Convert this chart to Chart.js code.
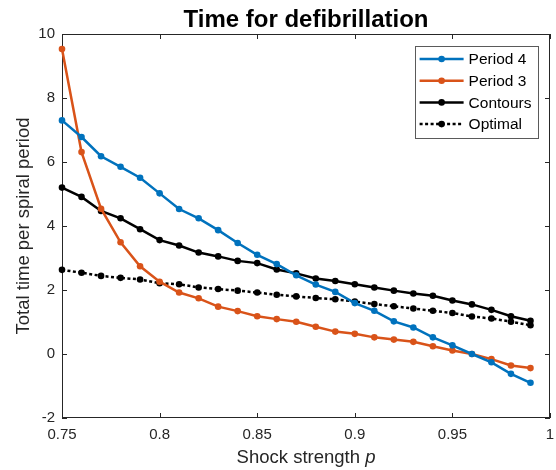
<!DOCTYPE html>
<html>
<head>
<meta charset="utf-8">
<script src="https://cdn.jsdelivr.net/npm/chart.js@4.4.1/dist/chart.umd.min.js"></script>
<style>
  html, body { margin: 0; padding: 0; background: #ffffff; }
  #wrap { width: 556px; height: 470px; position: relative; }
</style>
</head>
<body>
<div id="wrap"><canvas id="c" width="556" height="470"></canvas></div>
<script>
// ---- data ----
const shockStrength = [0.75, 0.76, 0.77, 0.78, 0.79, 0.80, 0.81, 0.82, 0.83, 0.84, 0.85, 0.86, 0.87,
                       0.88, 0.89, 0.90, 0.91, 0.92, 0.93, 0.94, 0.95, 0.96, 0.97, 0.98, 0.99];
const period4  = [7.30, 6.78, 6.18, 5.85, 5.51, 5.02, 4.53, 4.24, 3.87, 3.47, 3.10, 2.81, 2.46,
                  2.17, 1.94, 1.59, 1.35, 1.02, 0.83, 0.52, 0.27, 0.00, -0.26, -0.62, -0.90];
const period3  = [9.53, 6.31, 4.54, 3.49, 2.74, 2.26, 1.92, 1.74, 1.48, 1.34, 1.18, 1.09, 1.01,
                  0.85, 0.70, 0.63, 0.52, 0.45, 0.38, 0.24, 0.11, 0.00, -0.16, -0.36, -0.44];
const contours = [5.20, 4.91, 4.47, 4.24, 3.90, 3.56, 3.39, 3.17, 3.05, 2.91, 2.84, 2.64, 2.52,
                  2.36, 2.28, 2.18, 2.08, 1.98, 1.89, 1.82, 1.67, 1.55, 1.38, 1.18, 1.04];
const optimal  = [2.63, 2.54, 2.44, 2.38, 2.33, 2.21, 2.18, 2.08, 2.03, 1.98, 1.92, 1.85, 1.80,
                  1.75, 1.71, 1.64, 1.56, 1.49, 1.42, 1.35, 1.28, 1.17, 1.11, 1.01, 0.90];
const seriesNames = ['Period 4', 'Period 3', 'Contours', 'Optimal'];
const xTickValues = [0.75, 0.8, 0.85, 0.9, 0.95, 1];
const yTickValues = [-2, 0, 2, 4, 6, 8, 10];
const titleText = 'Time for defibrillation';
const yTitleText = 'Total time per spiral period';
const xTitleMain = 'Shock strength ';
const xTitleVar = 'p';

const FONT = '"Liberation Sans", Arial, Helvetica, sans-serif';
const AXIS_COLOR = '#262626';

function pts(arr) { return shockStrength.map((x, i) => ({ x: x, y: arr[i] })); }

function ds(label, values, color, dash) {
  return {
    label: label,
    data: pts(values),
    borderColor: color,
    backgroundColor: color,
    borderWidth: 2.5,
    borderDash: dash || [],
    pointRadius: 3.3,
    pointHoverRadius: 3.3,
    pointBorderWidth: 0,
    pointBackgroundColor: color,
    tension: 0,
    clip: false,
    fill: false
  };
}

const framePlugin = {
  id: 'frame',
  beforeDatasetsDraw(chart) {
    const { ctx, chartArea: a, scales } = chart;
    const tl = 5;
    ctx.save();
    ctx.strokeStyle = AXIS_COLOR;
    ctx.lineWidth = 1;
    ctx.strokeRect(Math.round(a.left) + 0.5, Math.round(a.top) + 0.5,
                   Math.round(a.right - a.left) - 1, Math.round(a.bottom - a.top) - 1);
    ctx.beginPath();
    scales.x.ticks.forEach(t => {
      const px = Math.round(scales.x.getPixelForValue(t.value)) + 0.5;
      ctx.moveTo(px, a.bottom); ctx.lineTo(px, a.bottom - tl);
      ctx.moveTo(px, a.top); ctx.lineTo(px, a.top + tl);
    });
    scales.y.ticks.forEach(t => {
      const py = Math.round(scales.y.getPixelForValue(t.value)) + 0.5;
      ctx.moveTo(a.left, py); ctx.lineTo(a.left + tl, py);
      ctx.moveTo(a.right, py); ctx.lineTo(a.right - tl, py);
    });
    ctx.stroke();
    ctx.restore();
  },
  afterDraw(chart) {
    const { ctx, chartArea: a } = chart;
    ctx.save();
    // title
    ctx.fillStyle = '#000000';
    ctx.font = 'bold 24px ' + FONT;
    ctx.textAlign = 'center';
    ctx.textBaseline = 'alphabetic';
    ctx.fillText(titleText, (a.left + a.right) / 2, 26.5);
    // y title
    ctx.fillStyle = AXIS_COLOR;
    ctx.font = '18.5px ' + FONT;
    ctx.textBaseline = 'middle';
    ctx.save();
    ctx.translate(24, (a.top + a.bottom) / 2);
    ctx.rotate(-Math.PI / 2);
    ctx.fillText(yTitleText, 0, 0);
    ctx.restore();
    // x title with italic p
    ctx.font = '18.5px ' + FONT;
    const w1 = ctx.measureText(xTitleMain).width;
    ctx.font = 'italic 18.5px ' + FONT;
    const w2 = ctx.measureText(xTitleVar).width;
    const startX = (a.left + a.right) / 2 - (w1 + w2) / 2;
    ctx.textAlign = 'left';
    ctx.textBaseline = 'alphabetic';
    ctx.font = '18.5px ' + FONT;
    ctx.fillText(xTitleMain, startX, 463);
    ctx.font = 'italic 18.5px ' + FONT;
    ctx.fillText(xTitleVar, startX + w1, 463);

    // legend
    const dsets = chart.data.datasets;
    ctx.font = '15.5px ' + FONT;
    let maxW = 0;
    dsets.forEach(d => { maxW = Math.max(maxW, ctx.measureText(d.label).width); });
    const rowH = 21.7;
    const boxRight = a.right - 12.5;
    const boxTop = a.top + 11.5;
    const lineLen = 44;
    const boxW = 5 + lineLen + 5 + maxW + 6;
    const boxLeft = boxRight - boxW;
    const boxH = rowH * dsets.length + 5;
    ctx.fillStyle = '#ffffff';
    ctx.fillRect(boxLeft, boxTop, boxW, boxH);
    ctx.strokeStyle = '#5a5a5a';
    ctx.lineWidth = 1;
    ctx.strokeRect(Math.round(boxLeft) + 0.5, Math.round(boxTop) + 0.5, Math.round(boxW), Math.round(boxH));
    dsets.forEach((d, i) => {
      const cy = boxTop + 13.5 + i * rowH;
      const x0 = boxLeft + 5;
      ctx.strokeStyle = d.borderColor;
      ctx.lineWidth = 2.5;
      ctx.setLineDash(d.borderDash || []);
      ctx.beginPath();
      ctx.moveTo(x0, cy); ctx.lineTo(x0 + lineLen, cy);
      ctx.stroke();
      ctx.setLineDash([]);
      ctx.fillStyle = d.borderColor;
      ctx.beginPath();
      ctx.arc(x0 + lineLen / 2, cy, 3.3, 0, Math.PI * 2);
      ctx.fill();
      ctx.fillStyle = '#000000';
      ctx.textAlign = 'left';
      ctx.textBaseline = 'middle';
      ctx.fillText(d.label, x0 + lineLen + 5, cy + 1);
    });
    ctx.restore();
  }
};

new Chart(document.getElementById('c'), {
  type: 'line',
  data: {
    datasets: [
      ds(seriesNames[0], period4, '#0072BD'),
      ds(seriesNames[1], period3, '#D95319'),
      ds(seriesNames[2], contours, '#000000'),
      ds(seriesNames[3], optimal, '#000000', [3, 2.5])
    ]
  },
  options: {
    responsive: false,
    animation: false,
    events: [],
    layout: { padding: { top: 34, right: 6, left: 0, bottom: 0 } },
    plugins: {
      legend: { display: false },
      title: { display: false },
      tooltip: { enabled: false }
    },
    scales: {
      x: {
        type: 'linear',
        min: 0.75, max: 1,
        afterBuildTicks(scale) { scale.ticks = xTickValues.map(v => ({ value: v })); },
        afterFit(scale) { scale.height = 52; scale.paddingLeft = 0; scale.paddingRight = 0; },
        grid: { display: false, drawTicks: false },
        border: { display: false },
        ticks: {
          padding: 8,
          color: AXIS_COLOR,
          font: { family: FONT, size: 15 },
          maxRotation: 0,
          callback: v => String(Number(v.toFixed(2)))
        }
      },
      y: {
        type: 'linear',
        min: -2, max: 10,
        afterBuildTicks(scale) { scale.ticks = yTickValues.map(v => ({ value: v })); },
        afterFit(scale) { scale.width = 62; scale.paddingTop = 0; scale.paddingBottom = 0; },
        grid: { display: false, drawTicks: false },
        border: { display: false },
        ticks: {
          padding: 7,
          color: AXIS_COLOR,
          font: { family: FONT, size: 15 },
          callback: v => String(v)
        }
      }
    }
  },
  plugins: [framePlugin]
});
</script>
</body>
</html>
